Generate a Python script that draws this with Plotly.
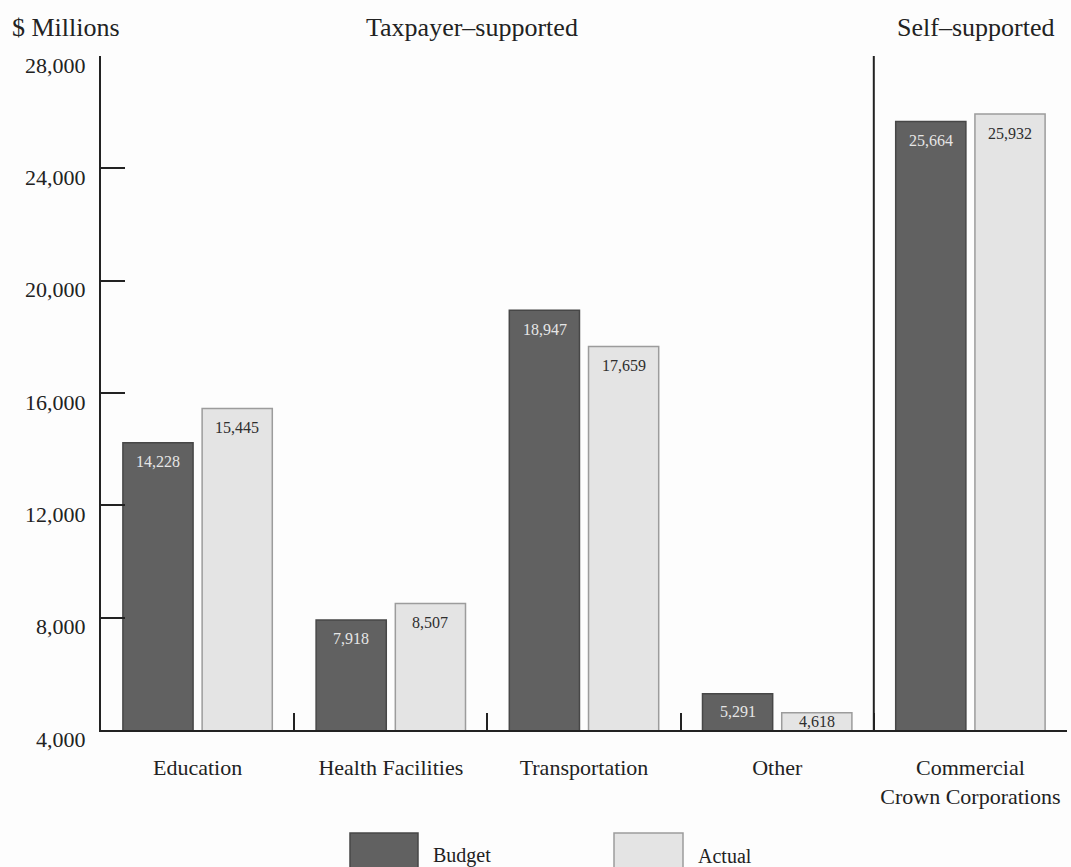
import plotly.graph_objects as go

categories = ["Education", "Health Facilities", "Transportation", "Other",
              "Commercial<br>Crown Corporations"]
budget = [14228, 7918, 18947, 5291, 25664]
actual = [15445, 8507, 17659, 4618, 25932]
y_ticks = [4000, 8000, 12000, 16000, 20000, 24000, 28000]
y_tick_labels = ["4,000", "8,000", "12,000", "16,000", "20,000", "24,000", "28,000"]
y_min, y_max = 4000, 28000

FONT = "Liberation Serif"
TXT = "#222222"
BUD_FILL, BUD_LINE = "#616161", "#474747"
ACT_FILL, ACT_LINE = "#e4e4e4", "#9c9c9c"

W, H = 1071, 867
ML, MR, MT, MB = 101, 4, 56, 137
plot_h = H - MT - MB
px_per_unit = plot_h / (y_max - y_min)

fig = go.Figure()
fig.add_trace(go.Bar(name="Budget", x=categories, y=budget,
                     marker=dict(color=BUD_FILL, line=dict(color=BUD_LINE, width=1.5)),
                     hoverinfo="x+y"))
fig.add_trace(go.Bar(name="Actual", x=categories, y=actual,
                     marker=dict(color=ACT_FILL, line=dict(color=ACT_LINE, width=1.5)),
                     hoverinfo="x+y"))

# value labels inside top of bars
for cat, b, a in zip(categories, budget, actual):
    for v, shift, col in ((b, -39.5, "#e6e6e6"), (a, 39.5, "#2e2e2e")):
        hpx = (v - y_min) * px_per_unit
        ys = -min(19, hpx / 2)
        fig.add_annotation(x=cat, y=v, xref="x", yref="y", text=f"{v:,}",
                           showarrow=False, xshift=shift, yshift=ys,
                           font=dict(family=FONT, size=16, color=col))

# y tick labels (sitting slightly below their ticks, as in the original)
for v, lab in zip(y_ticks, y_tick_labels):
    fig.add_annotation(xref="paper", yref="y", x=0, y=v, text=lab,
                       showarrow=False, xanchor="right", yanchor="middle",
                       xshift=-13, yshift=-9,
                       font=dict(family=FONT, size=22, color=TXT))

# divider between taxpayer- and self-supported
fig.add_shape(type="line", xref="x", yref="paper", x0=3.5, x1=3.5, y0=0, y1=1,
              line=dict(color="#222222", width=2))

pw = W - ML - MR
def px_x(x): return (x - ML) / pw
def px_y(y): return (H - MB - y) / plot_h

# header texts
for txt, x, anchor in (("$ Millions", 10, "left"),
                       ("Taxpayer–supported", 472, "center"),
                       ("Self–supported", 975, "center")):
    fig.add_annotation(xref="paper", yref="paper", x=px_x(x), y=px_y(28),
                       xanchor=anchor, yanchor="middle", text=txt, showarrow=False,
                       font=dict(family=FONT, size=26, color=TXT))

# custom legend
for name, x0, x1, fill, line in (("Budget", 350, 418, BUD_FILL, BUD_LINE),
                                 ("Actual", 614, 683, ACT_FILL, ACT_LINE)):
    fig.add_shape(type="rect", xref="paper", yref="paper",
                  x0=px_x(x0), x1=px_x(x1), y0=px_y(880), y1=px_y(833),
                  fillcolor=fill, line=dict(color=line, width=1.5))
    fig.add_annotation(xref="paper", yref="paper", x=px_x(x1 + 13), y=px_y(856),
                       xanchor="left", yanchor="middle", text=name, showarrow=False,
                       font=dict(family=FONT, size=20, color=TXT))

fig.update_layout(
    width=W, height=H,
    margin=dict(l=ML, r=MR, t=MT, b=MB),
    paper_bgcolor="#fdfdfd", plot_bgcolor="#fdfdfd",
    barmode="group", bargap=0.18, bargroupgap=0.114,
    showlegend=False,
    font=dict(family=FONT, color=TXT),
    xaxis=dict(type="category", showline=True, linecolor="#222222", linewidth=2,
               ticks="inside", tickson="boundaries", ticklen=17, tickwidth=2,
               tickcolor="#222222", showgrid=False, zeroline=False,
               tickangle=0, automargin=False,
               tickfont=dict(family=FONT, size=22, color=TXT),
               ticklabelstandoff=17),
    yaxis=dict(range=[y_min, y_max], tickvals=y_ticks, showticklabels=False,
               showline=True, linecolor="#222222", linewidth=2,
               ticks="inside", ticklen=24, tickwidth=2, tickcolor="#222222",
               showgrid=False, zeroline=False, automargin=False),
)

fig.write_html("out.html")
